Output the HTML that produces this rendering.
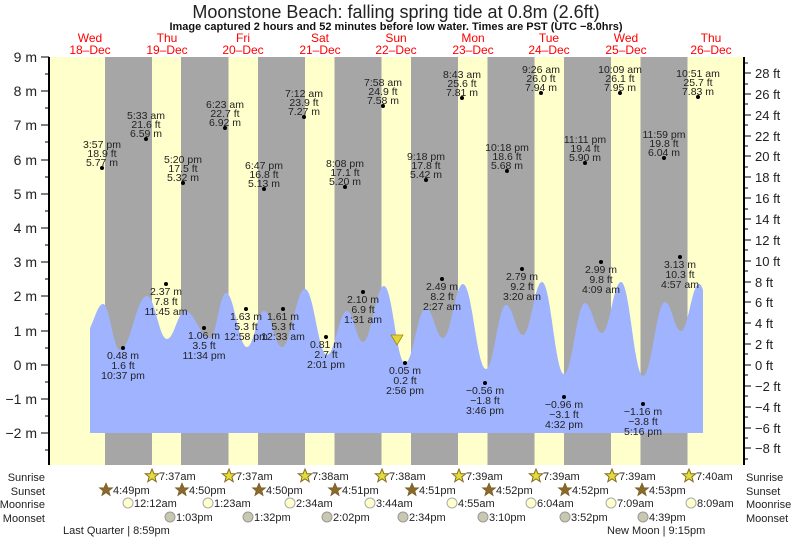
<!DOCTYPE html>
<html><head><meta charset="utf-8"><style>
html,body{margin:0;padding:0;background:#fff;}
svg{display:block;font-family:"Liberation Sans",Arial,sans-serif;}
</style></head><body>
<svg width="793" height="539" viewBox="0 0 793 539" xmlns="http://www.w3.org/2000/svg">
<text x="396" y="18" font-size="18" text-anchor="middle" fill="#222">Moonstone Beach: falling  spring tide at 0.8m (2.6ft)</text>
<text x="396" y="30" font-size="11" font-weight="bold" text-anchor="middle" fill="#111">Image captured 2 hours and 52 minutes before low water. Times are PST (UTC −8.0hrs)</text>
<g font-size="12" fill="#f00" text-anchor="middle">
<text x="90" y="42">Wed</text><text x="90" y="54">18–Dec</text>
<text x="167" y="42">Thu</text><text x="167" y="54">19–Dec</text>
<text x="243" y="42">Fri</text><text x="243" y="54">20–Dec</text>
<text x="320" y="42">Sat</text><text x="320" y="54">21–Dec</text>
<text x="396" y="42">Sun</text><text x="396" y="54">22–Dec</text>
<text x="473" y="42">Mon</text><text x="473" y="54">23–Dec</text>
<text x="549" y="42">Tue</text><text x="549" y="54">24–Dec</text>
<text x="626" y="42">Wed</text><text x="626" y="54">25–Dec</text>
<text x="711" y="42">Thu</text><text x="711" y="54">26–Dec</text>
</g>
<rect x="50" y="57" width="693" height="408" fill="#ffffcc"/>
<g fill="#a6a6a6">
<rect x="105" y="57" width="47" height="408"/>
<rect x="181" y="57" width="47.5" height="408"/>
<rect x="258" y="57" width="47" height="408"/>
<rect x="334.5" y="57" width="47" height="408"/>
<rect x="411" y="57" width="47" height="408"/>
<rect x="487.5" y="57" width="47" height="408"/>
<rect x="564" y="57" width="47" height="408"/>
<rect x="640.5" y="57" width="47" height="408"/>
</g>
<path fill="#9fb3ff" d="M90,433 L90,328 C95,318 98,304 103,304 C109.8,304 113.2,350 120,350 C130.8,350 136.2,296 147,296 C155,296 159,339 167,339 C174.2,339 177.8,311 185,311 C195,311 200,338 210,338 C216.4,338 219.6,293 226,293 C234.4,293 238.6,347 247,347 C253.8,347 257.2,311 264,311 C271.2,311 274.8,347 282,347 C291.2,347 295.8,289 305,289 C313.8,289 318.2,355 327,355 C335,355 339,311 347,311 C353.4,311 356.6,342 363,342 C371.4,342 375.6,286 384,286 C392.4,286 396.6,363 405,363 C413.4,363 417.6,308 426,308 C432.8,308 436.2,338 443,338 C451,338 455,284 463,284 C472.2,284 476.8,369 486,369 C494,369 498,305 506,305 C512.8,305 516.2,335 523,335 C530.6,335 534.4,282 542,282 C550.8,282 555.2,374 564,374 C572.4,374 576.6,303 585,303 C591.8,303 595.2,333 602,333 C609.6,333 613.4,282 621,282 C629.8,282 634.2,376 643,376 C651.8,376 656.2,302 665,302 C671.4,302 674.6,331 681,331 C688.2,331 691.8,284 699,284 C701,284 702,287 703,290 L703,433 Z"/>
<polygon points="391,335 403,335 397,345" fill="#e6d33a" stroke="#a08a00" stroke-width="0.8"/>
<g stroke="#000">
<line x1="49" y1="57" x2="49" y2="465" stroke-width="2"/>
<line x1="744" y1="57" x2="744" y2="465" stroke-width="2"/>
<path stroke-width="1" d="M41,57H49M41,91H49M41,125H49M41,160H49M41,194H49M41,228H49M41,262H49M41,296H49M41,331H49M41,365H49M41,399H49M41,433H49M45,74H49M45,108H49M45,142H49M45,177H49M45,211H49M45,245H49M45,279H49M45,314H49M45,348H49M45,382H49M45,416H49M45,450H49"/>
<path stroke-width="1" d="M744,73H751M744,94H751M744,115H751M744,136H751M744,156H751M744,177H751M744,198H751M744,219H751M744,240H751M744,261H751M744,282H751M744,302H751M744,323H751M744,344H751M744,365H751M744,386H751M744,407H751M744,428H751M744,448H751M744,63H748M744,84H748M744,104H748M744,125H748M744,146H748M744,167H748M744,188H748M744,209H748M744,229H748M744,250H748M744,271H748M744,292H748M744,313H748M744,334H748M744,354H748M744,375H748M744,396H748M744,417H748M744,438H748M744,459H748"/>
</g>
<g font-size="14" fill="#222" text-anchor="end">
<text x="37" y="62">9 m</text><text x="37" y="96">8 m</text><text x="37" y="130">7 m</text><text x="37" y="165">6 m</text><text x="37" y="199">5 m</text><text x="37" y="233">4 m</text><text x="37" y="267">3 m</text><text x="37" y="301">2 m</text><text x="37" y="336">1 m</text><text x="37" y="370">0 m</text><text x="37" y="404">−1 m</text><text x="37" y="438">−2 m</text>
</g>
<g font-size="13" fill="#222">
<text x="755" y="78">28 ft</text><text x="755" y="99">26 ft</text><text x="755" y="120">24 ft</text><text x="755" y="141">22 ft</text><text x="755" y="161">20 ft</text><text x="755" y="182">18 ft</text><text x="755" y="203">16 ft</text><text x="755" y="224">14 ft</text><text x="755" y="245">12 ft</text><text x="755" y="266">10 ft</text><text x="755" y="287">8 ft</text><text x="755" y="307">6 ft</text><text x="755" y="328">4 ft</text><text x="755" y="349">2 ft</text><text x="755" y="370">0 ft</text><text x="755" y="391">−2 ft</text><text x="755" y="412">−4 ft</text><text x="755" y="433">−6 ft</text><text x="755" y="453">−8 ft</text>
</g>
<g font-size="10.5" fill="#222" text-anchor="middle">
<circle cx="102" cy="168" r="2" fill="#000"/><text x="102" y="148">3:57 pm</text><text x="102" y="157">18.9 ft</text><text x="102" y="166">5.77 m</text>
<circle cx="146" cy="139" r="2" fill="#000"/><text x="146" y="119">5:33 am</text><text x="146" y="128">21.6 ft</text><text x="146" y="137">6.59 m</text>
<circle cx="183" cy="183" r="2" fill="#000"/><text x="183" y="163">5:20 pm</text><text x="183" y="172">17.5 ft</text><text x="183" y="181">5.32 m</text>
<circle cx="225" cy="128" r="2" fill="#000"/><text x="225" y="108">6:23 am</text><text x="225" y="117">22.7 ft</text><text x="225" y="126">6.92 m</text>
<circle cx="264" cy="189" r="2" fill="#000"/><text x="264" y="169">6:47 pm</text><text x="264" y="178">16.8 ft</text><text x="264" y="187">5.13 m</text>
<circle cx="304" cy="117" r="2" fill="#000"/><text x="304" y="97">7:12 am</text><text x="304" y="106">23.9 ft</text><text x="304" y="115">7.27 m</text>
<circle cx="345" cy="187" r="2" fill="#000"/><text x="345" y="167">8:08 pm</text><text x="345" y="176">17.1 ft</text><text x="345" y="185">5.20 m</text>
<circle cx="383" cy="106" r="2" fill="#000"/><text x="383" y="86">7:58 am</text><text x="383" y="95">24.9 ft</text><text x="383" y="104">7.58 m</text>
<circle cx="426" cy="180" r="2" fill="#000"/><text x="426" y="160">9:18 pm</text><text x="426" y="169">17.8 ft</text><text x="426" y="178">5.42 m</text>
<circle cx="462" cy="98" r="2" fill="#000"/><text x="462" y="78">8:43 am</text><text x="462" y="87">25.6 ft</text><text x="462" y="96">7.81 m</text>
<circle cx="507" cy="171" r="2" fill="#000"/><text x="507" y="151">10:18 pm</text><text x="507" y="160">18.6 ft</text><text x="507" y="169">5.68 m</text>
<circle cx="541" cy="93" r="2" fill="#000"/><text x="541" y="73">9:26 am</text><text x="541" y="82">26.0 ft</text><text x="541" y="91">7.94 m</text>
<circle cx="585" cy="163" r="2" fill="#000"/><text x="585" y="143">11:11 pm</text><text x="585" y="152">19.4 ft</text><text x="585" y="161">5.90 m</text>
<circle cx="620" cy="93" r="2" fill="#000"/><text x="620" y="73">10:09 am</text><text x="620" y="82">26.1 ft</text><text x="620" y="91">7.95 m</text>
<circle cx="664" cy="158" r="2" fill="#000"/><text x="664" y="138">11:59 pm</text><text x="664" y="147">19.8 ft</text><text x="664" y="156">6.04 m</text>
<circle cx="698" cy="97" r="2" fill="#000"/><text x="698" y="77">10:51 am</text><text x="698" y="86">25.7 ft</text><text x="698" y="95">7.83 m</text>
<circle cx="123" cy="348" r="2" fill="#000"/><text x="123" y="359">0.48 m</text><text x="123" y="369">1.6 ft</text><text x="123" y="379">10:37 pm</text>
<circle cx="166" cy="284" r="2" fill="#000"/><text x="166" y="295">2.37 m</text><text x="166" y="305">7.8 ft</text><text x="166" y="315">11:45 am</text>
<circle cx="204" cy="328" r="2" fill="#000"/><text x="204" y="339">1.06 m</text><text x="204" y="349">3.5 ft</text><text x="204" y="359">11:34 pm</text>
<circle cx="246" cy="309" r="2" fill="#000"/><text x="246" y="320">1.63 m</text><text x="246" y="330">5.3 ft</text><text x="246" y="340">12:58 pm</text>
<circle cx="283" cy="309" r="2" fill="#000"/><text x="283" y="320">1.61 m</text><text x="283" y="330">5.3 ft</text><text x="283" y="340">12:33 am</text>
<circle cx="326" cy="337" r="2" fill="#000"/><text x="326" y="348">0.81 m</text><text x="326" y="358">2.7 ft</text><text x="326" y="368">2:01 pm</text>
<circle cx="363" cy="292" r="2" fill="#000"/><text x="363" y="303">2.10 m</text><text x="363" y="313">6.9 ft</text><text x="363" y="323">1:31 am</text>
<circle cx="405" cy="363" r="2" fill="#000"/><text x="405" y="374">0.05 m</text><text x="405" y="384">0.2 ft</text><text x="405" y="394">2:56 pm</text>
<circle cx="442" cy="279" r="2" fill="#000"/><text x="442" y="290">2.49 m</text><text x="442" y="300">8.2 ft</text><text x="442" y="310">2:27 am</text>
<circle cx="485" cy="383" r="2" fill="#000"/><text x="485" y="394">−0.56 m</text><text x="485" y="404">−1.8 ft</text><text x="485" y="414">3:46 pm</text>
<circle cx="522" cy="269" r="2" fill="#000"/><text x="522" y="280">2.79 m</text><text x="522" y="290">9.2 ft</text><text x="522" y="300">3:20 am</text>
<circle cx="564" cy="397" r="2" fill="#000"/><text x="564" y="408">−0.96 m</text><text x="564" y="418">−3.1 ft</text><text x="564" y="428">4:32 pm</text>
<circle cx="601" cy="262" r="2" fill="#000"/><text x="601" y="273">2.99 m</text><text x="601" y="283">9.8 ft</text><text x="601" y="293">4:09 am</text>
<circle cx="643" cy="404" r="2" fill="#000"/><text x="643" y="415">−1.16 m</text><text x="643" y="425">−3.8 ft</text><text x="643" y="435">5:16 pm</text>
<circle cx="680" cy="257" r="2" fill="#000"/><text x="680" y="268">3.13 m</text><text x="680" y="278">10.3 ft</text><text x="680" y="288">4:57 am</text>
</g>
<defs>
<polygon id="st" points="0,-7 2,-2.2 6.7,-2.2 2.9,0.9 4.2,5.7 0,2.8 -4.2,5.7 -2.9,0.9 -6.7,-2.2 -2,-2.2"/>
</defs>
<g font-size="11" fill="#222">
<text x="45" y="481" text-anchor="end">Sunrise</text><text x="45" y="495" text-anchor="end">Sunset</text><text x="45" y="508" text-anchor="end">Moonrise</text><text x="45" y="522" text-anchor="end">Moonset</text>
<text x="746" y="481">Sunrise</text><text x="746" y="495">Sunset</text><text x="746" y="508">Moonrise</text><text x="746" y="522">Moonset</text>
</g>
<g fill="#dede3c" stroke="#8b6a20" stroke-width="1">
<use href="#st" x="152" y="476"/><use href="#st" x="229" y="476"/><use href="#st" x="305" y="476"/><use href="#st" x="382" y="476"/><use href="#st" x="459" y="476"/><use href="#st" x="536" y="476"/><use href="#st" x="612" y="476"/><use href="#st" x="689" y="476"/>
</g>
<g fill="#8b6a28" stroke="#6e5420" stroke-width="0.6">
<use href="#st" x="106" y="490"/><use href="#st" x="182" y="490"/><use href="#st" x="259" y="490"/><use href="#st" x="335" y="490"/><use href="#st" x="412" y="490"/><use href="#st" x="489" y="490"/><use href="#st" x="565" y="490"/><use href="#st" x="642" y="490"/>
</g>
<g fill="#ffffcc" stroke="#aaa" stroke-width="1">
<circle cx="128" cy="503" r="5"/><circle cx="208" cy="503" r="5"/><circle cx="290" cy="503" r="5"/><circle cx="370" cy="503" r="5"/><circle cx="452" cy="503" r="5"/><circle cx="531" cy="503" r="5"/><circle cx="611" cy="503" r="5"/><circle cx="691" cy="503" r="5"/>
</g>
<g fill="#c8c8b0" stroke="#999" stroke-width="1">
<circle cx="170" cy="517" r="5"/><circle cx="248" cy="517" r="5"/><circle cx="327" cy="517" r="5"/><circle cx="403" cy="517" r="5"/><circle cx="483" cy="517" r="5"/><circle cx="565" cy="517" r="5"/><circle cx="643" cy="517" r="5"/>
</g>
<g font-size="11" fill="#222">
<text x="159" y="480">7:37am</text><text x="236" y="480">7:37am</text><text x="312" y="480">7:38am</text><text x="389" y="480">7:38am</text><text x="466" y="480">7:39am</text><text x="543" y="480">7:39am</text><text x="619" y="480">7:39am</text><text x="696" y="480">7:40am</text>
<text x="113" y="494">4:49pm</text><text x="189" y="494">4:50pm</text><text x="266" y="494">4:50pm</text><text x="342" y="494">4:51pm</text><text x="419" y="494">4:51pm</text><text x="496" y="494">4:52pm</text><text x="572" y="494">4:52pm</text><text x="649" y="494">4:53pm</text>
<text x="134" y="507">12:12am</text><text x="214" y="507">1:23am</text><text x="296" y="507">2:34am</text><text x="376" y="507">3:44am</text><text x="458" y="507">4:55am</text><text x="537" y="507">6:04am</text><text x="617" y="507">7:09am</text><text x="697" y="507">8:09am</text>
<text x="176" y="521">1:03pm</text><text x="254" y="521">1:32pm</text><text x="333" y="521">2:02pm</text><text x="409" y="521">2:34pm</text><text x="489" y="521">3:10pm</text><text x="571" y="521">3:52pm</text><text x="649" y="521">4:39pm</text>
<text x="63" y="534">Last Quarter | 8:59pm</text><text x="607" y="534">New Moon | 9:15pm</text>
</g>
</svg>
</body></html>
